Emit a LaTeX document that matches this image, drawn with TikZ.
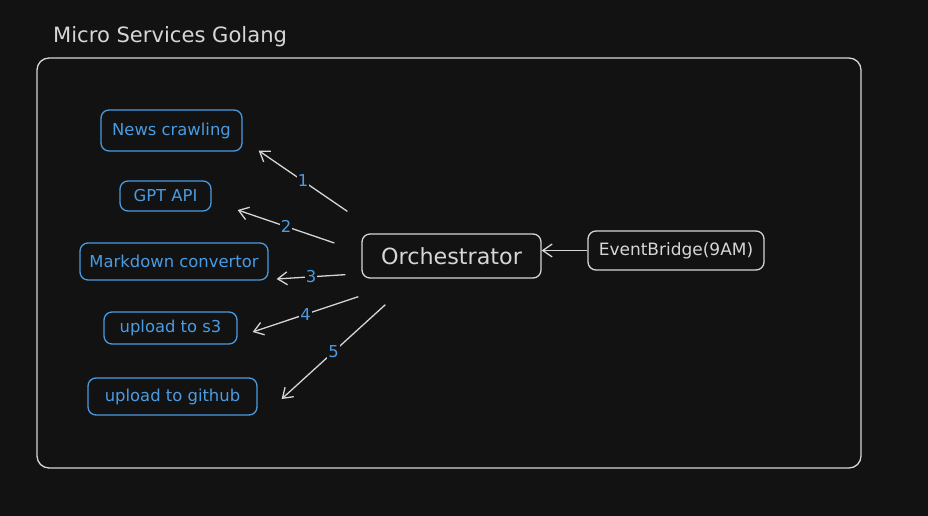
\documentclass[tikz,border=0pt]{standalone}
\usepackage{fontspec}
\setmainfont{DejaVu Sans}
\usetikzlibrary{arrows.meta}
\definecolor{bgdark}{HTML}{121212}
\definecolor{chalk}{HTML}{D6D6D6}
\definecolor{skyblue}{HTML}{4A9BE2}

\begin{document}
\begin{tikzpicture}[x=0.03cm, y=-0.03cm,
  svc/.style={draw=skyblue, text=skyblue, line width=1.1pt, rounded corners=0.24cm, inner sep=0pt, font=\fontsize{14}{16}\selectfont},
  main/.style={draw=chalk, text=chalk, line width=1.1pt, rounded corners=0.24cm, inner sep=0pt},
  arr/.style={draw=chalk, line width=1.1pt, -{Straight Barb[length=8pt,width=11pt]}},
  num/.style={fill=bgdark, text=skyblue, inner sep=1pt, font=\fontsize{14}{16}\selectfont}]

\fill[bgdark] (0,0) rectangle (928,516);
\draw[chalk, line width=1.1pt, rounded corners=0.36cm] (37,58) rectangle (861,468);
\node[anchor=west, text=chalk, font=\fontsize{18}{21}\selectfont] (title) at (49,37) {Micro Services Golang};

\node[svc, minimum width=4.23cm, minimum height=1.23cm] (news) at (171.5,130.5) {News crawling};
\node[svc, minimum width=2.73cm, minimum height=0.9cm] (gpt) at (165.5,196) {GPT API};
\node[svc, minimum width=5.64cm, minimum height=1.11cm] (md) at (174,261.5) {Markdown convertor};
\node[svc, minimum width=3.99cm, minimum height=0.96cm] (s3) at (170.5,328) {upload to s3};
\node[svc, minimum width=5.07cm, minimum height=1.11cm] (gh) at (172.5,396.5) {upload to github};

\node[main, minimum width=5.37cm, minimum height=1.32cm, font=\fontsize{19}{22}\selectfont] (orch) at (451.5,256) {Orchestrator};
\node[main, minimum width=5.28cm, minimum height=1.17cm, font=\fontsize{14.5}{17}\selectfont] (eb) at (676,250.5) {EventBridge(9AM)};

\draw[arr] ([shift={(-14,-22)}]orch.north west) -- node[num] {1} ([shift={(16,-1)}]news.south east);
\draw[arr] ([shift={(-27,-13)}]orch.west) -- node[num] {2} ([shift={(26,14)}]gpt.east);
\draw[arr] ([shift={(-16,-4)}]orch.south west) -- node[num] {3} ([shift={(8,17.5)}]md.east);
\draw[arr] ([shift={(-3,18)}]orch.south west) -- node[num] {4} ([shift={(15,4)}]s3.east);
\draw[arr] ([shift={(24,26)}]orch.south west) -- node[num] {5} ([shift={(24,2.5)}]gh.east);
\draw[arr] (eb.west) -- (orch.east |- eb.west);
\end{tikzpicture}
\end{document}
